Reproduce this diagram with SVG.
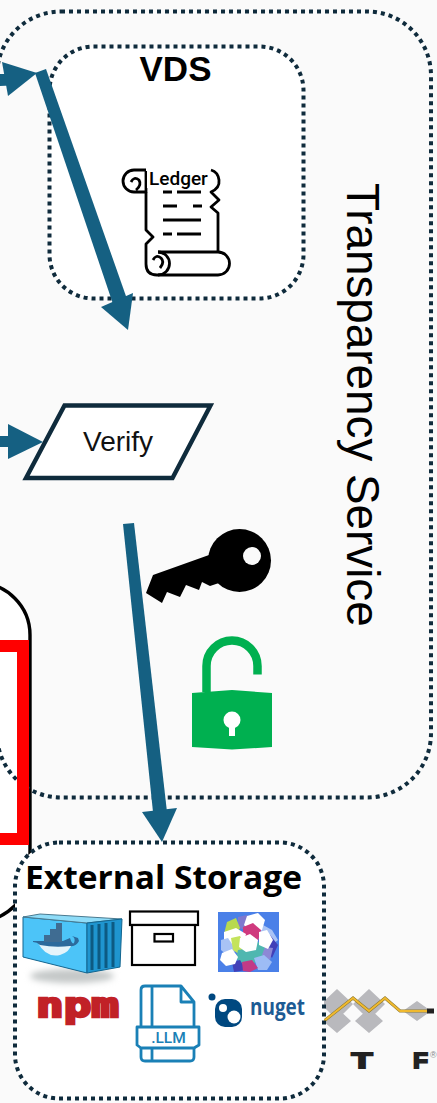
<svg xmlns="http://www.w3.org/2000/svg" width="437" height="1103" viewBox="0 0 437 1103">
<defs><filter id="soft" x="-30%" y="-80%" width="160%" height="260%"><feGaussianBlur stdDeviation="3"/></filter></defs>
<style>
.dot{fill:none;stroke:#0f2b3c;stroke-width:4;stroke-dasharray:4 4}
.arrow{fill:#156082}
.ink{fill:none;stroke:#000;stroke-width:2.800;stroke-linejoin:round;stroke-linecap:butt}
.box{fill:#fff;stroke:#000;stroke-width:2.200}
.llm{fill:none;stroke:#1a80b6;stroke-width:2.800;stroke-linejoin:round}
.dia{fill:#b9b9bd}
.hex{stroke:none}
text{font-family:"Liberation Sans",Arial,sans-serif}
</style>
<rect width="437" height="1103" fill="#fafafa"/>
<g id="left-node">
<rect x="-120" y="583" width="150" height="338" rx="52" fill="#fff" stroke="#000" stroke-width="3.400"/>
</g>
<g id="transparency-service">
<rect x="-3" y="11.500" width="434" height="786" rx="64" class="dot"/>
<text transform="translate(347 183) rotate(90)" font-size="45.800" fill="#000">Transparency Service</text>
</g>
<g id="red-box"><rect x="-30" y="646" width="53" height="193" fill="none" stroke="#f00" stroke-width="12"/></g>
<g id="vds">
<rect x="49.500" y="46.500" width="254" height="252" rx="44" class="dot" style="fill:#fff"/>
<text x="175.500" y="81" font-size="35" font-weight="700" text-anchor="middle" fill="#000">VDS</text>
</g>
<g id="ledger">
<path class="ink" d="M146 192V230L153 237L146 244V264Q146 275 157 275H218A11.500 11.500 0 0 0 218 252H158"/>
<path class="ink" d="M158 252A11.500 11.500 0 0 1 158 275M160 268Q165 262 161 258Q156 254 153 260"/>
<path class="ink" d="M218 252V213L211 207L219 200L211 192Q220 188 219 180Q218 172 211 170"/>
<path class="ink" d="M146 170H134A11 11 0 1 0 134 192H146V171M136 190Q142 185 139 180Q134 176 131 182"/>
<path class="ink" d="M163 192h9M177 192h24M163 206h14M193 206h9M163 220h38M163 234h9M177 234h24"/>
<rect x="147" y="168" width="63" height="20" fill="#fff"/>
<text x="149" y="185" font-size="19" font-weight="500" style="font-family:Roboto,sans-serif" fill="#000">Ledger</text>
</g>
<g id="verify">
<path d="M64.500 405.500H210.500L172.500 478H26Z" fill="#fff" stroke="#0f2b3c" stroke-width="4.400"/>
<text x="83" y="451" font-size="28" fill="#111">Verify</text>
</g>
<g id="key">
<circle cx="239.500" cy="560.500" r="31.500" fill="#000"/>
<path fill="#000" d="M209 555L153 575L146 593L162 603L167 592L180 597L186 585L199 590L202 582L210 586L222 582L235 560Z"/>
<circle cx="252" cy="556" r="9" fill="#fafafa"/>
</g>
<g id="lock">
<path d="M206.500 692V666A25.500 25.500 0 0 1 257.500 666V674.500" fill="none" stroke="#00b050" stroke-width="8.500"/>
<path fill="#00b050" d="M192 693L232 690L272 693V747L232 749.500L192 747Z"/>
<circle cx="232" cy="720" r="8.500" fill="#fff"/><rect x="229" y="722" width="6" height="14" fill="#fff"/>
</g>
<g id="tf-logo">
<path class="dia" d="M337 989L353 1004L337 1020L321 1004ZM369 989L385 1004L369 1020L353 1004ZM337 1008L351 1021L337 1033L323 1021ZM369 1008L383 1021L369 1033L355 1021ZM417 1001L431 1011L417 1021L403 1011Z"/>
<path d="M324 1021L353 998L369 1011L385 998L400 1011H427" fill="none" stroke="#8f7a2e" stroke-width="3"/>
<path d="M324 1021L353 998L369 1011L385 998L400 1011H427" fill="none" stroke="#f0b92e" stroke-width="2"/>
<rect x="427" y="1008.500" width="7" height="5" fill="#222"/>
<text x="351.500" y="1067.500" font-size="22" font-weight="700" textLength="21" lengthAdjust="spacingAndGlyphs" fill="#222" stroke="#222" stroke-width="1.800" style="font-family:'Liberation Sans',sans-serif">T</text>
<text x="413" y="1067.500" font-size="22" font-weight="700" textLength="15" lengthAdjust="spacingAndGlyphs" fill="#222" stroke="#222" stroke-width="1.800" style="font-family:'Liberation Sans',sans-serif">F</text>
<text x="430" y="1058" font-size="9" fill="#888">®</text>
</g>
<g id="external-storage">
<rect x="15" y="842.500" width="309" height="256" rx="44" class="dot" style="fill:#fff"/>
<text x="25" y="889" font-size="32" font-weight="700" textLength="277" lengthAdjust="spacingAndGlyphs" fill="#000" style="font-family:'Open Sans',sans-serif">External Storage</text>
</g>
<g id="docker">
<ellipse cx="72" cy="976" rx="42" ry="7" fill="#c4c8c8" filter="url(#soft)"/>
<path fill="#4cc4f8" stroke="#12658f" d="M23 917L87 923V973L23 957Z"/>
<path fill="#8edcf8" stroke="#4a7a90" d="M23 917L40 914L122 919L87 923Z"/>
<path fill="#1f95cf" stroke="#12658f" d="M87 923L122 919L120 967L87 973Z"/>
<path d="M92 925V970M99 924V969M106 923V968M113 922V967" stroke="#0d5a82" stroke-width="3" fill="none"/>
<path fill="#e4f4fb" d="M38 943H72Q70 952 60 955Q46 958 38 943Z"/>
<path fill="#2c6a9c" d="M33 941H63L70 938Q72 945 74 943Q76 938 72 936L78 938L79 941Q76 947 70 946Q55 948 40 945Q37 942 33 942Z"/>
<path fill="#3f6c92" d="M43 933h6v7h-6zM49 933h6v7h-6zM55 933h6v7h-6zM49 927h6v6h-6zM55 927h6v6h-6zM55 921h6v6h-6z" transform="translate(1 2)"/>
</g>
<g id="archive-box">
<rect x="130" y="911.500" width="68" height="13.500" class="box"/>
<rect x="132" y="925" width="63" height="40" class="box"/>
<rect x="154.500" y="934" width="18.500" height="7.500" class="box"/>
</g>
<g id="ollama-cubes">
<rect x="218" y="912" width="61" height="60" fill="#4a80e8"/>
<path class="hex" fill="#7f78cf" d="M238 917L247 915L253 922L247 930L238 928Z"/>
<path class="hex" fill="#a9c3f5" d="M263 925L272 930L278 940L268 948L258 938Z"/>
<path class="hex" fill="#4240b8" d="M270 935L278 945L272 958L264 948Z"/>
<path class="hex" fill="#b8d94f" d="M227 922L236 918L240 928L233 940L224 934Z"/>
<path class="hex" fill="#fff" d="M247 916L258 913L265 920L262 930L250 932L244 925Z"/>
<path class="hex" fill="#cf3a7e" d="M243 927L253 923L261 930L258 941L247 945L243 938Z"/>
<path class="hex" fill="#fff" d="M224 932L236 928L246 934L243 945L232 948L224 942Z"/>
<path class="hex" fill="#a9c3f5" d="M221 940L228 938L236 950L229 957L221 950Z"/>
<path class="hex" fill="#c4e35c" d="M231 938L240 936L245 945L240 955L233 950Z"/>
<path class="hex" fill="#4fb7b0" d="M238 950L250 948L259 955L254 964L243 966L236 958Z"/>
<path class="hex" fill="#4fb7b0" d="M254 940L264 945L268 955L258 958L252 950Z"/>
<path class="hex" fill="#8d88d6" d="M265 947L273 948L270 960L262 955Z"/>
<path class="hex" fill="#fff" d="M259 932L267 930L273 940L268 949L259 945Z"/>
<path class="hex" fill="#fff" d="M240 938L250 934L258 940L256 950L246 952L239 947Z"/>
<path class="hex" fill="#9dbcf5" d="M254 958L264 955L272 962L267 970L258 970Z"/>
<path class="hex" fill="#4240b8" d="M232 962L240 960L246 970L234 972Z"/>
<path class="hex" fill="#c23a86" d="M242 962L252 960L258 968L250 972L243 971Z"/>
<path class="hex" fill="#fff" d="M222 953L232 949L238 957L235 964L226 966L220 960Z"/>
</g>
<g id="npm"><text x="36" y="1017" font-size="34" font-weight="700" textLength="83" lengthAdjust="spacingAndGlyphs" fill="#c12127" stroke="#c12127" stroke-width="2.500" stroke-linejoin="miter" style="font-family:'DejaVu Sans Mono',monospace">npm</text></g>
<g id="llm-file">
<path class="llm" d="M141 1027V990Q141 986 145 986H181L194 1002V1027M181 986V1002H194M152 986V1027M141 1048V1057Q141 1061 145 1061H190Q194 1061 194 1057V1048M152 1048V1061"/>
<path class="llm" d="M137 1027H199V1045L194 1048H141L137 1045Z" style="fill:#fff"/>
<text x="168.500" y="1043" font-size="15.500" font-weight="500" text-anchor="middle" fill="#1a80b6" style="font-family:Roboto,sans-serif">.LLM</text>
</g>
<g id="nuget">
<circle cx="212" cy="997" r="3.500" fill="#004880"/>
<rect x="215" y="999" width="27" height="28" rx="10" fill="#004880"/>
<circle cx="223" cy="1008" r="4" fill="#fff"/><circle cx="234" cy="1017" r="6.500" fill="#fff"/>
<text x="250" y="1015" font-size="24" font-weight="700" textLength="55" lengthAdjust="spacingAndGlyphs" fill="#1d5b94" style="font-family:'Open Sans',sans-serif">nuget</text>
</g>
<g id="connectors">
<path class="arrow" d="M0 74L14 74L22 85L0 86Z"/>
<path class="arrow" d="M37 73L2 62L8 96Z"/>
<path class="arrow" d="M35 73L46 69L127 299L113 304Z"/>
<path class="arrow" d="M128 330L133 293L101 307Z"/>
<path class="arrow" d="M0 436H12V447H0Z"/>
<path class="arrow" d="M43 442L8 424V459Z"/>
<path class="arrow" d="M123 524L134 523L167 812L153 812Z"/>
<path class="arrow" d="M162 842L177 808L142 812Z"/>
</g>
</svg>
